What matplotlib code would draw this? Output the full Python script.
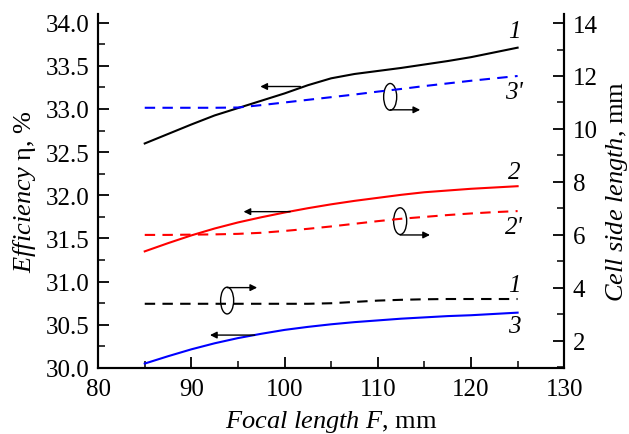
import matplotlib
matplotlib.use('Agg')
import matplotlib.pyplot as plt
from matplotlib.patches import Ellipse
from matplotlib.ticker import MultipleLocator, FormatStrFormatter

plt.rcParams['font.family'] = ['Liberation Serif', 'DejaVu Serif']
plt.rcParams['mathtext.fontset'] = 'custom'
plt.rcParams['mathtext.rm'] = 'Liberation Serif'
plt.rcParams['mathtext.it'] = 'Liberation Serif:italic'

# focal length, mm
focal = [85, 87.5, 90, 92.5, 95, 97.5, 100, 102.5, 105, 107.5, 110,
         112.5, 115, 117.5, 120, 122.5, 125]

# efficiency, % (left axis)
eff_1 = [32.60, 32.71, 32.82, 32.925, 33.01, 33.095, 33.18, 33.275, 33.355,
         33.405, 33.44, 33.475, 33.515, 33.555, 33.60, 33.655, 33.71]
eff_2 = [31.35, 31.445, 31.535, 31.615, 31.685, 31.745, 31.80, 31.85, 31.895,
         31.935, 31.97, 32.005, 32.035, 32.055, 32.075, 32.09, 32.105]
eff_3 = [30.05, 30.135, 30.215, 30.285, 30.345, 30.395, 30.44, 30.475, 30.505,
         30.53, 30.55, 30.57, 30.585, 30.60, 30.61, 30.625, 30.64]

# cell side length, mm (right axis)
side_1 = [3.40, 3.40, 3.40, 3.40, 3.40, 3.40, 3.40, 3.40, 3.42,
          3.47, 3.52, 3.55, 3.57, 3.58, 3.58, 3.58, 3.58]
side_2 = [6.00, 6.00, 6.01, 6.02, 6.04, 6.08, 6.15, 6.23, 6.32,
          6.42, 6.52, 6.61, 6.68, 6.75, 6.81, 6.86, 6.90]
side_3 = [10.80, 10.80, 10.80, 10.80, 10.81, 10.90, 11.00, 11.10, 11.20,
          11.30, 11.41, 11.51, 11.62, 11.72, 11.82, 11.91, 12.00]

fig = plt.figure(figsize=(6.29, 4.35), dpi=100)
ax = fig.add_subplot(111)
fig.subplots_adjust(left=0.156, right=0.897, bottom=0.152, top=0.9655)
ax2 = ax.twinx()

dash = (0, (5, 3.5))
ax.plot(focal, eff_1, color='black', lw=1.5)
ax.plot(focal, eff_2, color='red', lw=1.5)
ax.plot(focal, eff_3, color='blue', lw=1.5)
ax2.plot(focal, side_1, color='black', lw=1.5, ls=dash)
ax2.plot(focal, side_2, color='red', lw=1.5, ls=dash)
ax2.plot(focal, side_3, color='blue', lw=1.5, ls=dash)

ax.set_xlim(80, 130)
ax.set_ylim(30, 34.1)
ax2.set_ylim(0.98, 14.34)

ax.xaxis.set_major_locator(MultipleLocator(10))
ax.xaxis.set_minor_locator(MultipleLocator(5))
ax.yaxis.set_major_locator(MultipleLocator(0.5))
ax.yaxis.set_minor_locator(MultipleLocator(0.25))
ax.yaxis.set_major_formatter(FormatStrFormatter('%.1f'))
ax2.yaxis.set_major_locator(MultipleLocator(2))
ax2.yaxis.set_minor_locator(MultipleLocator(1))

for a in (ax, ax2):
    a.spines['top'].set_visible(False)
    for s in a.spines.values():
        s.set_linewidth(1.5)
    a.tick_params(which='major', direction='in', length=8, width=1.3, labelsize=18)
    a.tick_params(which='minor', direction='in', length=5, width=1.1)
ax.tick_params(axis='both', which='both', right=False, top=False)
ax.tick_params(axis='x', which='major', pad=7)
ax.tick_params(axis='y', which='major', pad=6)
ax2.tick_params(axis='y', which='both', left=False, right=True)
ax2.tick_params(axis='y', which='major', pad=6)

ax.set_xlabel(r'$\mathit{Focal\ length\ F}$, mm', fontsize=19, labelpad=6)
ax.set_ylabel(r'$\mathit{Efficiency}$ η, %', fontsize=19, labelpad=6)
ax2.set_ylabel(r'$\mathit{Cell\ side\ length}$, mm', fontsize=19, labelpad=5)

# arrows pointing to the left axis
left_arrows = [(101.7, 97.4, 33.26), (100.6, 95.6, 31.81), (96.8, 92.0, 30.38)]
for x0, x1, y in left_arrows:
    ax.annotate('', xy=(x1, y), xytext=(x0, y),
                arrowprops=dict(arrowstyle='-|>', color='black', lw=1.0,
                                mutation_scale=10, shrinkA=0, shrinkB=0))

# ellipses with arrows pointing to the right axis
right_marks = [(111.33, 33.14, 32.99, 114.55), (112.4, 31.70, 31.54, 115.6),
               (93.84, 30.78, 30.93, 97.06)]
for cx, cy, ya, xe in right_marks:
    ax.add_patch(Ellipse((cx, cy), 1.4, 0.31, fill=False, ec='black', lw=1.0))
    ax.annotate('', xy=(xe, ya), xytext=(cx, ya),
                arrowprops=dict(arrowstyle='-|>', color='black', lw=1.0,
                                mutation_scale=10, shrinkA=0, shrinkB=0))

labels = ['1', "3'", '2', "2'", '1', '3']
label_y = [33.90, 33.20, 32.27, 31.63, 30.96, 30.48]
for t, y in zip(labels, label_y):
    ax.text(124.6, y, t, fontsize=18, style='italic', ha='center', va='center')

fig.savefig('out.png', dpi=100)
